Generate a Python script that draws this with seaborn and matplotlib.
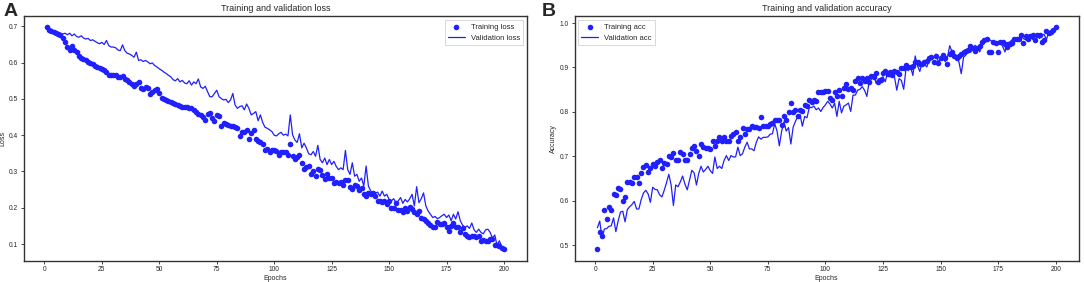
import numpy as np
import pandas as pd
import matplotlib
matplotlib.use("Agg")
import matplotlib.pyplot as plt
import seaborn as sns

epochs = list(range(1, 201))

train_loss = [
    0.697, 0.690, 0.688, 0.685, 0.682, 0.680, 0.675, 0.668, 0.656, 0.643,
    0.636, 0.647, 0.635, 0.630, 0.617, 0.613, 0.610, 0.606, 0.603, 0.600,
    0.595, 0.590, 0.588, 0.585, 0.583, 0.580, 0.574, 0.567, 0.566, 0.566,
    0.565, 0.561, 0.560, 0.562, 0.556, 0.551, 0.547, 0.541, 0.535, 0.542,
    0.548, 0.531, 0.526, 0.533, 0.529, 0.513, 0.520, 0.524, 0.526, 0.515,
    0.503, 0.500, 0.497, 0.495, 0.492, 0.490, 0.486, 0.482, 0.480, 0.479,
    0.477, 0.477, 0.476, 0.474, 0.470, 0.464, 0.459, 0.455, 0.450, 0.443,
    0.459, 0.460, 0.447, 0.438, 0.456, 0.452, 0.426, 0.435, 0.432, 0.428,
    0.425, 0.426, 0.422, 0.419, 0.397, 0.409, 0.410, 0.413, 0.389, 0.406,
    0.414, 0.390, 0.383, 0.380, 0.376, 0.360, 0.362, 0.355, 0.360, 0.358,
    0.356, 0.345, 0.355, 0.353, 0.355, 0.346, 0.376, 0.344, 0.334, 0.340,
    0.346, 0.322, 0.307, 0.313, 0.315, 0.294, 0.301, 0.287, 0.307, 0.305,
    0.289, 0.278, 0.292, 0.282, 0.282, 0.269, 0.271, 0.269, 0.271, 0.264,
    0.276, 0.276, 0.258, 0.252, 0.264, 0.260, 0.249, 0.255, 0.237, 0.232,
    0.241, 0.237, 0.240, 0.232, 0.219, 0.218, 0.217, 0.219, 0.210, 0.218,
    0.200, 0.200, 0.212, 0.194, 0.194, 0.187, 0.198, 0.191, 0.203, 0.196,
    0.189, 0.183, 0.190, 0.173, 0.169, 0.164, 0.158, 0.152, 0.146, 0.146,
    0.161, 0.155, 0.154, 0.158, 0.148, 0.137, 0.150, 0.159, 0.147, 0.146,
    0.134, 0.143, 0.128, 0.123, 0.118, 0.123, 0.121, 0.118, 0.123, 0.108,
    0.112, 0.107, 0.108, 0.114, 0.114, 0.096, 0.097, 0.094, 0.088, 0.085,
]

val_loss = [
    0.695, 0.690, 0.688, 0.686, 0.684, 0.683, 0.681, 0.679, 0.681, 0.677,
    0.681, 0.674, 0.679, 0.672, 0.670, 0.674, 0.668, 0.665, 0.667, 0.661,
    0.663, 0.659, 0.655, 0.652, 0.656, 0.650, 0.661, 0.647, 0.643, 0.643,
    0.641, 0.635, 0.633, 0.649, 0.633, 0.626, 0.624, 0.620, 0.615, 0.629,
    0.606, 0.608, 0.603, 0.606, 0.602, 0.597, 0.599, 0.592, 0.588, 0.583,
    0.579, 0.574, 0.570, 0.565, 0.561, 0.553, 0.550, 0.556, 0.547, 0.551,
    0.544, 0.542, 0.550, 0.538, 0.547, 0.542, 0.555, 0.533, 0.529, 0.535,
    0.520, 0.506, 0.506, 0.515, 0.524, 0.506, 0.501, 0.497, 0.499, 0.490,
    0.497, 0.515, 0.483, 0.474, 0.479, 0.481, 0.470, 0.486, 0.474, 0.456,
    0.460, 0.465, 0.440, 0.456, 0.435, 0.422, 0.419, 0.415, 0.410, 0.400,
    0.398, 0.404, 0.408, 0.400, 0.403, 0.398, 0.456, 0.401, 0.387, 0.380,
    0.404, 0.365, 0.378, 0.365, 0.349, 0.346, 0.355, 0.342, 0.372, 0.333,
    0.324, 0.337, 0.319, 0.333, 0.319, 0.328, 0.314, 0.305, 0.310, 0.305,
    0.358, 0.305, 0.292, 0.324, 0.287, 0.292, 0.273, 0.282, 0.260, 0.315,
    0.260, 0.246, 0.241, 0.240, 0.243, 0.232, 0.246, 0.232, 0.237, 0.223,
    0.219, 0.225, 0.214, 0.219, 0.228, 0.212, 0.223, 0.216, 0.225, 0.237,
    0.205, 0.258, 0.214, 0.225, 0.241, 0.205, 0.191, 0.182, 0.173, 0.176,
    0.170, 0.173, 0.178, 0.182, 0.173, 0.180, 0.164, 0.182, 0.169, 0.189,
    0.164, 0.152, 0.146, 0.150, 0.143, 0.158, 0.139, 0.132, 0.141, 0.132,
    0.128, 0.139, 0.141, 0.132, 0.116, 0.125, 0.096, 0.109, 0.094, 0.088,
]

train_acc = [
    0.491, 0.531, 0.521, 0.579, 0.559, 0.587, 0.579, 0.615, 0.614, 0.629,
    0.627, 0.600, 0.609, 0.643, 0.642, 0.640, 0.653, 0.654, 0.641, 0.662,
    0.676, 0.680, 0.665, 0.673, 0.682, 0.678, 0.687, 0.693, 0.675, 0.685,
    0.682, 0.702, 0.699, 0.707, 0.693, 0.693, 0.710, 0.706, 0.693, 0.691,
    0.706, 0.719, 0.723, 0.713, 0.702, 0.729, 0.721, 0.719, 0.718, 0.717,
    0.735, 0.724, 0.735, 0.743, 0.735, 0.744, 0.735, 0.735, 0.746, 0.750,
    0.754, 0.735, 0.743, 0.763, 0.750, 0.761, 0.761, 0.768, 0.766, 0.766,
    0.763, 0.788, 0.768, 0.768, 0.768, 0.774, 0.776, 0.782, 0.782, 0.782,
    0.771, 0.790, 0.783, 0.801, 0.820, 0.801, 0.805, 0.790, 0.805, 0.803,
    0.816, 0.813, 0.827, 0.822, 0.827, 0.824, 0.844, 0.846, 0.845, 0.847,
    0.847, 0.832, 0.827, 0.846, 0.835, 0.849, 0.836, 0.855, 0.864, 0.851,
    0.853, 0.849, 0.869, 0.876, 0.866, 0.876, 0.869, 0.876, 0.868, 0.882,
    0.878, 0.888, 0.868, 0.871, 0.888, 0.893, 0.886, 0.890, 0.884, 0.893,
    0.890, 0.886, 0.899, 0.899, 0.906, 0.902, 0.900, 0.904, 0.912, 0.912,
    0.908, 0.908, 0.912, 0.915, 0.921, 0.923, 0.912, 0.926, 0.910, 0.921,
    0.928, 0.921, 0.908, 0.930, 0.934, 0.926, 0.921, 0.926, 0.930, 0.935,
    0.938, 0.940, 0.949, 0.943, 0.938, 0.943, 0.949, 0.957, 0.962, 0.965,
    0.935, 0.934, 0.957, 0.954, 0.934, 0.957, 0.957, 0.952, 0.946, 0.952,
    0.956, 0.963, 0.963, 0.965, 0.972, 0.954, 0.971, 0.965, 0.971, 0.972,
    0.962, 0.972, 0.974, 0.957, 0.962, 0.982, 0.978, 0.979, 0.985, 0.990,
]

val_acc = [
    0.540, 0.555, 0.516, 0.537, 0.538, 0.543, 0.544, 0.562, 0.531, 0.555,
    0.575, 0.577, 0.553, 0.581, 0.587, 0.592, 0.599, 0.582, 0.582, 0.603,
    0.618, 0.624, 0.616, 0.597, 0.631, 0.626, 0.625, 0.614, 0.609, 0.624,
    0.641, 0.660, 0.636, 0.590, 0.636, 0.632, 0.643, 0.656, 0.638, 0.625,
    0.647, 0.669, 0.663, 0.636, 0.662, 0.678, 0.665, 0.671, 0.678, 0.668,
    0.662, 0.699, 0.673, 0.678, 0.673, 0.691, 0.702, 0.691, 0.702, 0.699,
    0.699, 0.721, 0.702, 0.706, 0.721, 0.732, 0.717, 0.717, 0.713, 0.732,
    0.744, 0.739, 0.743, 0.743, 0.744, 0.750, 0.751, 0.774, 0.757, 0.724,
    0.757, 0.778, 0.757, 0.765, 0.728, 0.766, 0.779, 0.790, 0.794, 0.768,
    0.790, 0.787, 0.810, 0.810, 0.813, 0.805, 0.809, 0.801, 0.810, 0.816,
    0.824, 0.818, 0.809, 0.820, 0.790, 0.824, 0.798, 0.813, 0.816, 0.820,
    0.801, 0.838, 0.838, 0.849, 0.851, 0.857, 0.849, 0.835, 0.868, 0.874,
    0.884, 0.865, 0.874, 0.876, 0.879, 0.868, 0.890, 0.879, 0.886, 0.879,
    0.849, 0.875, 0.871, 0.851, 0.897, 0.893, 0.901, 0.882, 0.926, 0.904,
    0.891, 0.912, 0.908, 0.901, 0.915, 0.919, 0.923, 0.930, 0.913, 0.919,
    0.926, 0.913, 0.923, 0.949, 0.935, 0.930, 0.926, 0.912, 0.886, 0.923,
    0.928, 0.938, 0.934, 0.941, 0.950, 0.945, 0.935, 0.949, 0.956, 0.960,
    0.963, 0.960, 0.954, 0.957, 0.957, 0.956, 0.947, 0.935, 0.956, 0.957,
    0.962, 0.960, 0.962, 0.965, 0.971, 0.965, 0.962, 0.967, 0.971, 0.963,
    0.971, 0.972, 0.965, 0.974, 0.974, 0.963, 0.979, 0.976, 0.985, 0.989,
]

x_ticks = [0, 25, 50, 75, 100, 125, 150, 175, 200]

sns.set_style("ticks")
plt.rcParams['font.family'] = ['Liberation Sans', 'DejaVu Sans']

color = "#1f1fff"

fig = plt.figure(figsize=(10.84, 2.82), dpi=100)
axA = fig.add_axes([0.022, 0.076, 0.464, 0.866])
axB = fig.add_axes([0.530, 0.076, 0.465, 0.866])

dfA = pd.DataFrame({"Epochs": epochs, "train": train_loss, "val": val_loss})
dfB = pd.DataFrame({"Epochs": epochs, "train": train_acc, "val": val_acc})

def draw(ax, df, tlabel, vlabel, title, ylabel, loc):
    sns.scatterplot(data=df, x="Epochs", y="train", ax=ax, color=color,
                    s=16, linewidth=0, label=tlabel, zorder=3)
    sns.lineplot(data=df, x="Epochs", y="val", ax=ax, color=color,
                 linewidth=0.9, label=vlabel, zorder=2)
    ax.set_title(title, fontsize=6.5, pad=4)
    ax.set_xlabel("Epochs", fontsize=5, labelpad=1)
    ax.set_ylabel(ylabel, fontsize=5, labelpad=2)
    ax.set_xticks(x_ticks)
    ax.tick_params(labelsize=4.8, length=2.5, width=0.6, pad=1.5)
    for sp in ax.spines.values():
        sp.set_linewidth(1.0)
        sp.set_color("#333333")
        sp.set_visible(True)
    leg = ax.legend(loc=loc, fontsize=5.5, frameon=True, fancybox=False,
                    borderpad=0.4, handlelength=2.2, markerscale=1.0)
    leg.get_frame().set_linewidth(0.5)
    leg.get_frame().set_edgecolor("#bbbbbb")

draw(axA, dfA, "Training loss", "Validation loss",
     "Training and validation loss", "Loss", "upper right")
draw(axB, dfB, "Training acc", "Validation acc",
     "Training and validation accuracy", "Accuracy", "upper left")
axA.set_yticks([0.1, 0.2, 0.3, 0.4, 0.5, 0.6, 0.7])
axB.set_yticks([0.5, 0.6, 0.7, 0.8, 0.9, 1.0])

fig.text(0.003, 0.99, "A", fontsize=14, fontweight="bold", va="top", ha="left")
fig.text(0.500, 0.99, "B", fontsize=14, fontweight="bold", va="top", ha="left")

fig.savefig("out.png", dpi=100)
